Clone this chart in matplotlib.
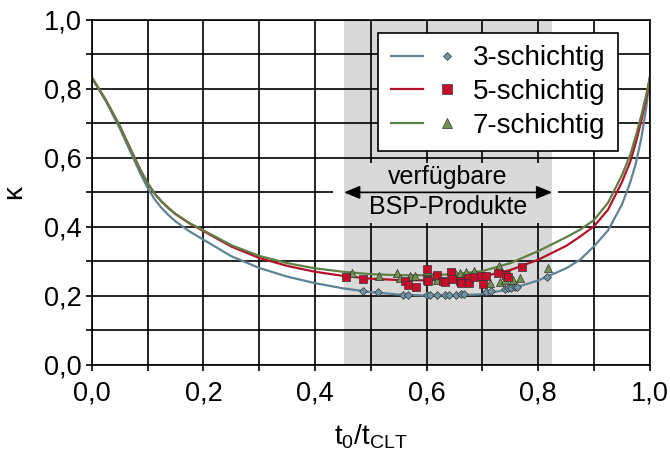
import matplotlib
matplotlib.use("Agg")
import matplotlib.pyplot as plt
from matplotlib.lines import Line2D
from matplotlib.patches import Rectangle
from matplotlib.legend_handler import HandlerTuple
from matplotlib.ticker import FuncFormatter

plt.rcParams['font.family'] = ['Liberation Sans', 'DejaVu Sans']

# curves
x_curve = [0, 0.025, 0.05, 0.075, 0.0875, 0.1, 0.1125, 0.125, 0.1375, 0.15, 0.175,
           0.2, 0.25, 0.3, 0.35, 0.4, 0.45, 0.5, 0.55, 0.6, 0.65, 0.7, 0.75, 0.8,
           0.85, 0.875, 0.9, 0.925, 0.95, 0.965, 0.975, 0.985, 0.993, 1.0]
k3 = [0.833, 0.765, 0.686, 0.597, 0.553, 0.513, 0.48, 0.455, 0.434, 0.416, 0.387,
      0.363, 0.315, 0.281, 0.256, 0.237, 0.222, 0.211, 0.204, 0.201, 0.201, 0.205,
      0.22, 0.245, 0.28, 0.305, 0.344, 0.39, 0.465, 0.53, 0.585, 0.66, 0.74, 0.833]
k5 = [0.833, 0.768, 0.693, 0.607, 0.564, 0.527, 0.497, 0.473, 0.454, 0.437, 0.41,
      0.388, 0.343, 0.31, 0.287, 0.27, 0.258, 0.25, 0.246, 0.245, 0.248, 0.256,
      0.275, 0.305, 0.345, 0.372, 0.402, 0.45, 0.53, 0.59, 0.645, 0.71, 0.77, 0.833]
k7 = [0.833, 0.768, 0.692, 0.605, 0.563, 0.526, 0.497, 0.474, 0.455, 0.438, 0.411,
      0.39, 0.347, 0.316, 0.295, 0.28, 0.27, 0.263, 0.26, 0.26, 0.263, 0.272,
      0.295, 0.33, 0.37, 0.392, 0.42, 0.47, 0.55, 0.61, 0.665, 0.725, 0.78, 0.833]

# products (scatter)
p3_x = [0.486, 0.513, 0.557, 0.567, 0.6, 0.606, 0.618, 0.633, 0.64, 0.653, 0.662,
        0.667, 0.707, 0.716, 0.74, 0.746, 0.752, 0.758, 0.762, 0.815]
p3_y = [0.213, 0.211, 0.204, 0.204, 0.203, 0.203, 0.203, 0.203, 0.204, 0.204, 0.205,
        0.205, 0.212, 0.213, 0.22, 0.222, 0.224, 0.225, 0.226, 0.256]
p5_x = [0.456, 0.486, 0.561, 0.567, 0.581, 0.6, 0.6, 0.603, 0.618, 0.63, 0.633,
        0.643, 0.645, 0.66, 0.662, 0.674, 0.676, 0.685, 0.698, 0.701, 0.706,
        0.728, 0.742, 0.746, 0.77]
p5_y = [0.255, 0.25, 0.244, 0.233, 0.226, 0.277, 0.247, 0.244, 0.262, 0.242, 0.239,
        0.27, 0.249, 0.244, 0.237, 0.253, 0.237, 0.255, 0.257, 0.235, 0.259,
        0.265, 0.262, 0.255, 0.284]
p7_x = [0.467, 0.515, 0.546, 0.552, 0.57, 0.579, 0.6, 0.601, 0.612, 0.619, 0.65,
        0.659, 0.671, 0.685, 0.714, 0.73, 0.732, 0.74, 0.754, 0.768, 0.818]
p7_y = [0.265, 0.259, 0.265, 0.252, 0.257, 0.259, 0.257, 0.271, 0.259, 0.247, 0.266,
        0.265, 0.268, 0.271, 0.237, 0.286, 0.239, 0.247, 0.247, 0.252, 0.281]

band = (0.452, 0.825)
ticks = [0, 0.1, 0.2, 0.3, 0.4, 0.5, 0.6, 0.7, 0.8, 0.9, 1.0]
labels = ['3-schichtig', '5-schichtig', '7-schichtig']

c3, c5, c7 = '#5f8394', '#b3122b', '#5f7f45'
f3, f5, f7 = '#6f94a6', '#c40e2a', '#6f9150'

fig = plt.figure(figsize=(6.7, 4.5), dpi=100)
ax = fig.add_axes([0.137, 0.189, 0.833, 0.767])

ax.axvspan(band[0], band[1], color='#d9d9d9', zorder=0.1, lw=0)

ax.set_xlim(0, 1)
ax.set_ylim(0, 1)
ax.set_xticks(ticks)
ax.set_yticks(ticks)
fmt = FuncFormatter(lambda v, p: ('%.1f' % v).replace('.', ',')
                    if round(v * 10) % 2 == 0 else '')
ax.xaxis.set_major_formatter(fmt)
ax.yaxis.set_major_formatter(fmt)
ax.tick_params(labelsize=19.5, length=4, width=1.2, pad=3, color='black')
ax.tick_params(axis='x', pad=7)
ax.grid(True, color='black', lw=1.2)
ax.set_axisbelow(True)
for s in ax.spines.values():
    s.set_linewidth(1.2)

# annotation box over the grid
ax.add_patch(Rectangle((band[0], 0.412), band[1] - band[0], 0.174,
                       facecolor='#d9d9d9', edgecolor='none', zorder=1.5))
ax.add_patch(Rectangle((0.432, 0.49), band[0] - 0.432, 0.02,
                       facecolor='white', edgecolor='none', zorder=1.5))
ax.add_patch(Rectangle((band[1], 0.49), 0.836 - band[1], 0.02,
                       facecolor='white', edgecolor='none', zorder=1.5))
ax.annotate('', xy=(band[0], 0.5), xytext=(band[1], 0.5),
            arrowprops=dict(arrowstyle='<|-|>,head_length=0.6,head_width=0.25',
                            color='black', lw=1.2,
                            mutation_scale=16, shrinkA=0, shrinkB=0), zorder=1.6)
mid = (band[0] + band[1]) / 2
ax.text(mid, 0.545, 'verfügbare', ha='center', va='center', fontsize=18, zorder=1.7)
ax.text(mid, 0.458, 'BSP-Produkte', ha='center', va='center', fontsize=18, zorder=1.7)

l3, = ax.plot(x_curve, k3, color=c3, lw=1.6, zorder=2)
l5, = ax.plot(x_curve, k5, color=c5, lw=1.6, zorder=2)
l7, = ax.plot(x_curve, k7, color=c7, lw=1.6, zorder=2)

ax.scatter(p7_x, p7_y, marker='^', s=34, color=f7, edgecolors='#333333',
           linewidths=0.5, zorder=3)
ax.scatter(p5_x, p5_y, marker='s', s=40, color=f5, edgecolors='#333333',
           linewidths=0.5, zorder=3.1)
ax.scatter(p3_x, p3_y, marker='D', s=16, color=f3, edgecolors='#333333',
           linewidths=0.5, zorder=3.2)

m3 = Line2D([], [], ls='none', marker='D', ms=4, color=f3, mec='#333333', mew=0.5)
m5 = Line2D([], [], ls='none', marker='s', ms=6.5, color=f5, mec='#333333', mew=0.5)
m7 = Line2D([], [], ls='none', marker='^', ms=6.5, color=f7, mec='#333333', mew=0.5)

leg = ax.legend([(l3, m3), (l5, m5), (l7, m7)], labels,
                handler_map={tuple: HandlerTuple(ndivide=None, pad=0.3)},
                loc='upper left', bbox_to_anchor=(0.513, 0.962),
                fontsize=20, handlelength=2.6, handletextpad=0.35,
                labelspacing=0.28, borderpad=0.45, borderaxespad=0,
                fancybox=False, framealpha=1, edgecolor='black')
leg.get_frame().set_linewidth(1.2)
leg.set_zorder(5)

ax.set_xlabel(r'$\mathregular{t_0/t_{CLT}}$', fontsize=20, labelpad=12)
ax.set_ylabel('κ', fontsize=20, labelpad=12)

fig.savefig('out.png', dpi=100)
